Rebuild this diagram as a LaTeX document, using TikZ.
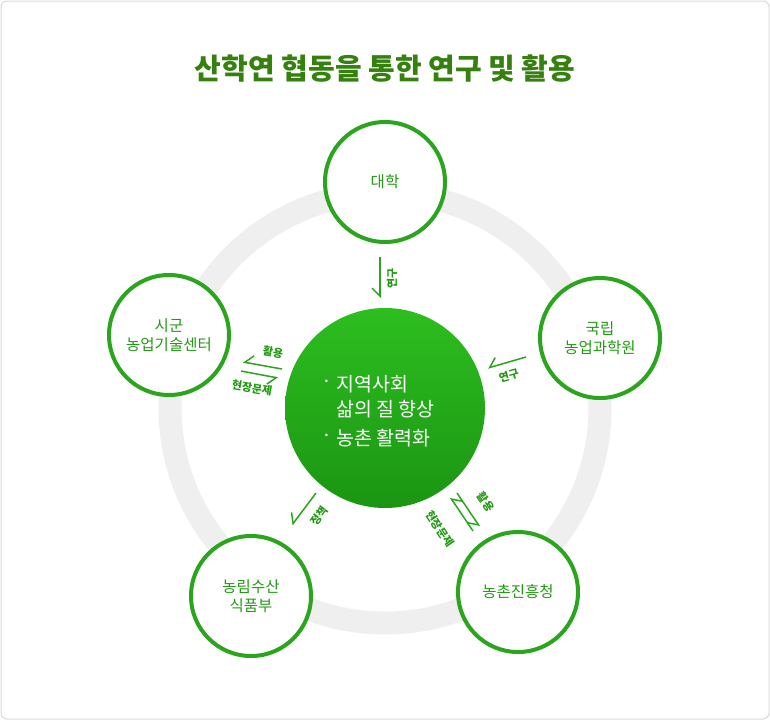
\documentclass[tikz,border=0pt]{standalone}
\usepackage{fontspec}
\setmainfont{Noto Sans CJK KR}
\usetikzlibrary{arrows.meta}
\definecolor{cgreen}{HTML}{2BA51E}
\definecolor{ctext}{HTML}{239A14}
\definecolor{ctitle}{HTML}{35800F}
\definecolor{cring}{HTML}{EFEFEF}
\definecolor{cframe}{HTML}{DADADA}
\definecolor{hubtop}{HTML}{2DBE1F}
\definecolor{hubbot}{HTML}{1B9513}
\begin{document}
\begin{tikzpicture}[x=1pt,y=-1pt,
  agency/.style={circle, draw=cgreen, line width=4pt, fill=white, minimum size=120pt, inner sep=0pt, text=ctext, align=center, font=\fontsize{15.5}{19}\selectfont},
  flow/.style={draw=cgreen, line width=1.5pt, -{Straight Barb[right,length=8pt,width=16pt,line width=1.5pt]}},
  flowlabel/.style={text=ctext, font=\bfseries\fontsize{11}{12}\selectfont, inner sep=0pt},
  hubtext/.style={text=white, font=\fontsize{19.5}{21}\selectfont, anchor=west, inner sep=0pt}
]
\useasboundingbox (0,0) rectangle (770,720);
\node[draw=cframe, fill=white, rounded corners=6pt, line width=1pt, minimum width=768pt, minimum height=718pt, inner sep=0pt] (frame) at (385,360) {};
\node[text=ctitle, font=\bfseries\fontsize{29}{32}\selectfont] (title) at (385,69) {산학연 협동을 통한 연구 및 활용};
\node[circle, draw=cring, line width=23pt, minimum size=430pt, inner sep=0pt] (ring) at (385,408) {};
\node[circle, top color=hubtop, bottom color=hubbot, minimum size=200pt, inner sep=0pt] (hub) at (385,408) {};
\node[hubtext] (b1) at (321,384) {·};
\node[hubtext] (h1) at (336,384) {지역사회};
\node[hubtext] (h2) at (336,409) {삶의 질 향상};
\node[hubtext] (b2) at (321,438) {·};
\node[hubtext] (h3) at (336,438) {농촌 활력화};
\node[agency] (univ) at (385,182) {대학};
\node[agency] (nias) at (600,338) {국립\\농업과학원};
\node[agency] (sigun) at (169,335) {시군\\농업기술센터};
\node[agency] (mifaff) at (251,596) {농림수산\\식품부};
\node[agency] (rda) at (518,592) {농촌진흥청};
% top
\coordinate (a1s) at (380,257); \coordinate (a1e) at (380,298);
\draw[flow] (a1s) -- (a1e);
\node[flowlabel, rotate=90] (l1) at (392,278) {연구};
% right
\coordinate (a2s) at (526,357); \coordinate (a2e) at (488,368);
\draw[flow] (a2s) -- (a2e);
\node[flowlabel, rotate=16] (l2) at (509,376) {연구};
% left pair
\coordinate (a3s) at (282,369); \coordinate (a3e) at (243,362);
\coordinate (a4s) at (241,371); \coordinate (a4e) at (278,378);
\draw[flow] (a3s) -- (a3e);
\draw[flow] (a4s) -- (a4e);
\node[flowlabel, rotate=-10] (l3) at (273,352) {활용};
\node[flowlabel, rotate=-10] (l4) at (252,388) {현장문제};
% bottom left
\coordinate (a5s) at (316,493); \coordinate (a5e) at (292,525);
\draw[flow] (a5s) -- (a5e);
\node[flowlabel, rotate=53] (l5) at (319,516) {정책};
% bottom right pair
\coordinate (a6s) at (473,531); \coordinate (a6e) at (450.5,497.6);
\coordinate (a7s) at (457,493); \coordinate (a7e) at (479.5,526.4);
\draw[flow] (a6s) -- (a6e);
\draw[flow] (a7s) -- (a7e);
\node[flowlabel, rotate=-56] (l6) at (440,529) {현장문제};
\node[flowlabel, rotate=-56] (l7) at (486,502) {활용};
\end{tikzpicture}
\end{document}
